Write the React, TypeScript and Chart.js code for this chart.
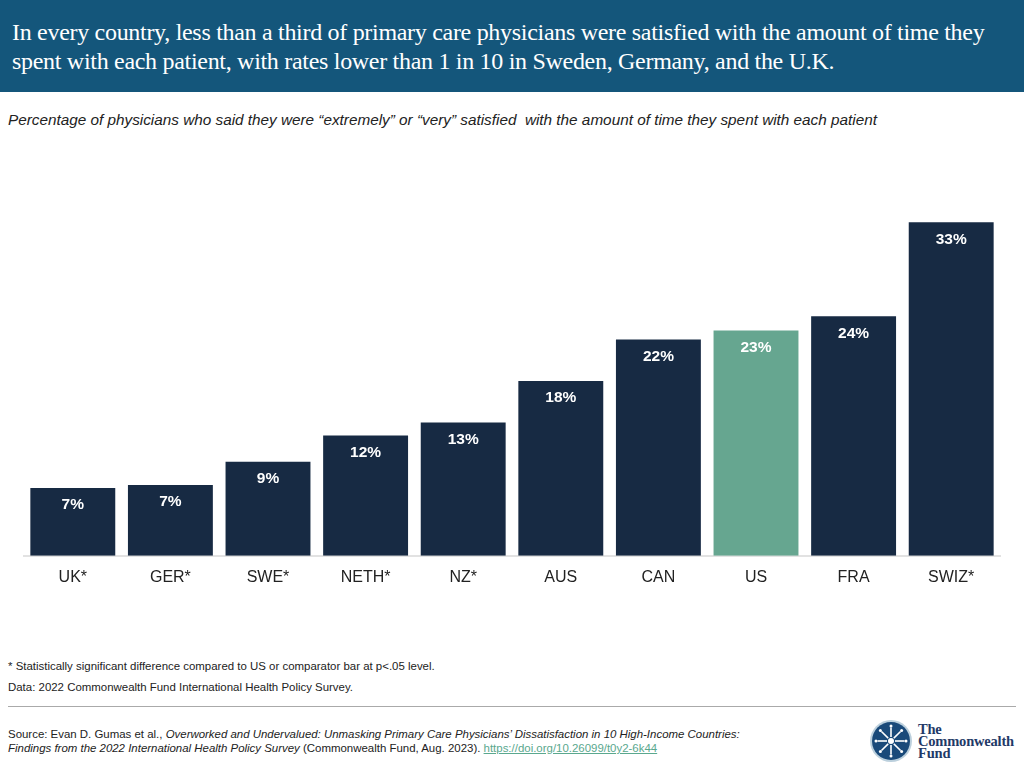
import React, { useEffect, useRef } from "react";
import { Chart, registerables } from "chart.js";

Chart.register(...registerables);

const categories = ["UK*", "GER*", "SWE*", "NETH*", "NZ*", "AUS", "CAN", "US", "FRA", "SWIZ*"];
const values = [6.7, 7.0, 9.3, 11.9, 13.2, 17.3, 21.4, 22.3, 23.7, 33.0];
const valueLabels = ["7%", "7%", "9%", "12%", "13%", "18%", "22%", "23%", "24%", "33%"];
const barColors = ["#172a43", "#172a43", "#172a43", "#172a43", "#172a43", "#172a43", "#172a43", "#66a690", "#172a43", "#172a43"];

const labelPlugin = {
  id: "innerLabels",
  afterDatasetsDraw(chart: any) {
    const ctx = chart.ctx;
    const meta = chart.getDatasetMeta(0);
    ctx.save();
    ctx.fillStyle = "#ffffff";
    ctx.font = "bold 15.5px 'Liberation Sans', Arial, sans-serif";
    ctx.textAlign = "center";
    ctx.textBaseline = "middle";
    meta.data.forEach((bar: any, i: number) => {
      ctx.fillText(valueLabels[i], bar.x, bar.y + 17);
    });
    ctx.restore();
  },
};

function BarChart() {
  const ref = useRef<HTMLCanvasElement>(null);
  useEffect(() => {
    if (!ref.current) return;
    const chart = new Chart(ref.current, {
      type: "bar",
      data: {
        labels: categories,
        datasets: [
          {
            data: values,
            backgroundColor: barColors,
            borderWidth: 0,
            categoryPercentage: 1,
            barPercentage: 0.87,
          },
        ],
      },
      options: {
        animation: false,
        responsive: false,
        maintainAspectRatio: false,
        layout: { padding: { left: 24, right: 24, top: 42, bottom: 1 } },
        plugins: { legend: { display: false }, tooltip: { enabled: false } },
        scales: {
          x: {
            grid: { display: false, drawTicks: false },
            border: { display: true, color: "#e2e2e2", width: 2 },
            ticks: {
              color: "#222222",
              padding: 12,
              font: { family: "'Liberation Sans', Arial, sans-serif", size: 16 },
            },
          },
          y: { display: false, min: 0, max: 36 },
        },
      },
      plugins: [labelPlugin],
    });
    return () => chart.destroy();
  }, []);
  return <canvas ref={ref} width={1024} height={450} style={{ position: "absolute", left: 0, top: 150, width: 1024, height: 450 }} />;
}

function Logo() {
  const spokes = [0, 45, 90, 135, 180, 225, 270, 315];
  return (
    <div style={{ position: "absolute", left: 869, top: 719, display: "flex", alignItems: "center" }}>
      <svg width="44" height="44" viewBox="0 0 44 44">
        <circle cx="22" cy="22" r="21" fill="#bcd0dd" />
        <circle cx="22" cy="22" r="19" fill="#1a4a7a" />
        {spokes.map((a) => {
          const r = (a * Math.PI) / 180;
          return (
            <g key={a}>
              <line x1={22 + 4 * Math.cos(r)} y1={22 + 4 * Math.sin(r)} x2={22 + 13.5 * Math.cos(r)} y2={22 + 13.5 * Math.sin(r)} stroke="#ffffff" strokeWidth="1.6" />
              <circle cx={22 + 15 * Math.cos(r)} cy={22 + 15 * Math.sin(r)} r="1.5" fill="#ffffff" />
            </g>
          );
        })}
        <circle cx="22" cy="22" r="3" fill="#ffffff" />
      </svg>
      <div style={{ marginLeft: 5, fontFamily: "'Liberation Serif', 'DejaVu Serif', serif", fontWeight: "bold", fontSize: 14.5, lineHeight: "12px", color: "#1f3a68", letterSpacing: -0.2 }}>
        <div>The</div>
        <div>Commonwealth</div>
        <div>Fund</div>
      </div>
    </div>
  );
}

export default function App() {
  const sans = "'Liberation Sans', Arial, sans-serif";
  return (
    <div style={{ position: "absolute", left: 0, top: 0, width: 1024, height: 768, background: "#ffffff", overflow: "hidden" }}>
      <div style={{ position: "absolute", left: 0, top: 0, width: 1024, height: 92, background: "#14567b" }}>
        <div style={{ position: "absolute", left: 12, top: 18, width: 1010, whiteSpace: "nowrap", color: "#ffffff", fontFamily: "'Liberation Serif', 'Times New Roman', serif", fontSize: 24, lineHeight: "29px", letterSpacing: -0.3 }}>
          In every country, less than a third of primary care physicians were satisfied with the amount of time they
          <br />
          spent with each patient, with rates lower than 1 in 10 in Sweden, Germany, and the U.K.
        </div>
      </div>
      <div style={{ position: "absolute", left: 8, top: 111, fontFamily: sans, fontStyle: "italic", fontSize: 15.3, color: "#222222", whiteSpace: "nowrap" }}>
        Percentage of physicians who said they were “extremely” or “very” satisfied&nbsp; with the amount of time they spent with each patient
      </div>
      <BarChart />
      <div style={{ position: "absolute", left: 8, top: 660, fontFamily: sans, fontSize: 11.45, color: "#222222" }}>
        * Statistically significant difference compared to US or comparator bar at p&lt;.05 level.
      </div>
      <div style={{ position: "absolute", left: 8, top: 681, fontFamily: sans, fontSize: 11.45, color: "#222222" }}>
        Data: 2022 Commonwealth Fund International Health Policy Survey.
      </div>
      <div style={{ position: "absolute", left: 8, top: 706, width: 1008, height: 1, background: "#aaaaaa" }} />
      <div style={{ position: "absolute", left: 8, top: 727, width: 860, whiteSpace: "nowrap", fontFamily: sans, fontSize: 11.45, lineHeight: "14px", color: "#222222" }}>
        Source: Evan D. Gumas et al., <i>Overworked and Undervalued: Unmasking Primary Care Physicians’ Dissatisfaction in 10 High-Income Countries:</i>
        <br />
        <i>Findings from the 2022 International Health Policy Survey</i> (Commonwealth Fund, Aug. 2023).{" "}
        <span style={{ color: "#5aa88e", textDecoration: "underline" }}>https://doi.org/10.26099/t0y2-6k44</span>
      </div>
      <Logo />
    </div>
  );
}
